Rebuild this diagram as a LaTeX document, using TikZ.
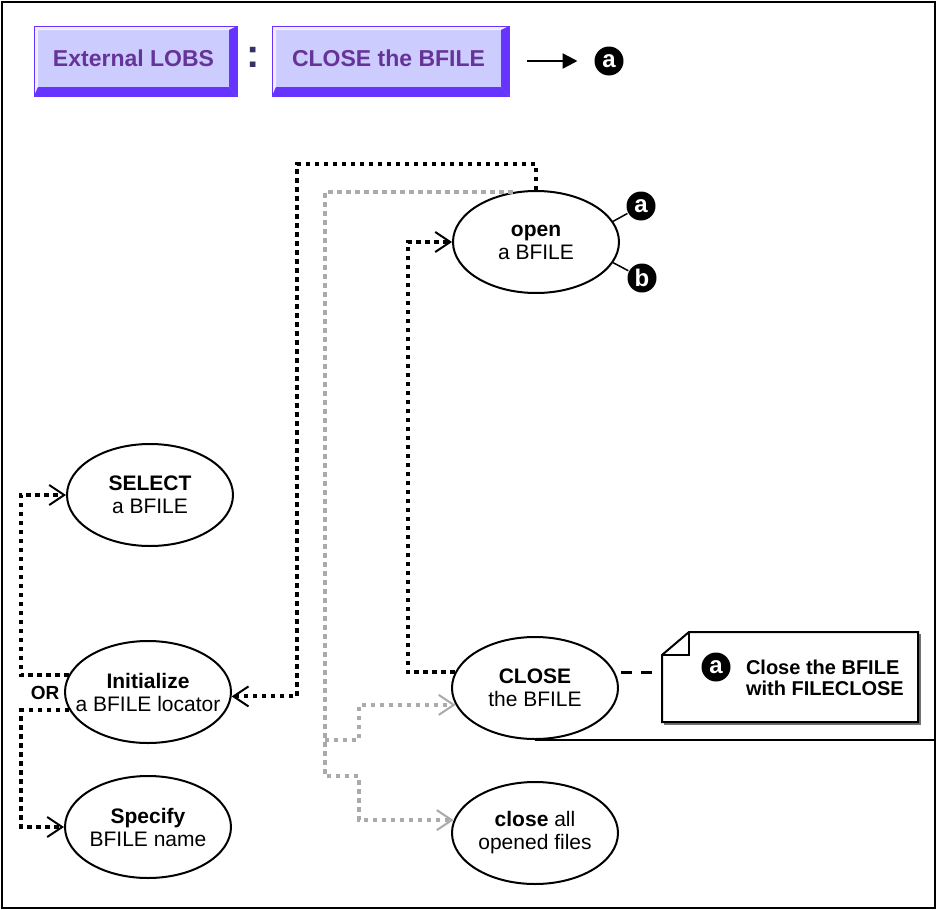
\documentclass[tikz,border=0pt]{standalone}
\usepackage{fontspec}
\setmainfont{Liberation Sans}
\usetikzlibrary{arrows.meta,shapes.geometric}
\definecolor{btnface}{HTML}{CCCCFF}
\definecolor{btnedge}{HTML}{6633FF}
\definecolor{btnlight}{HTML}{EEEEFF}
\definecolor{btntext}{HTML}{663399}
\definecolor{btncolon}{HTML}{333366}
\definecolor{dotgrey}{HTML}{AAAAAA}
\begin{document}
\begin{tikzpicture}[x=1pt,y=-1pt,line width=2pt,
    inner sep=0pt,
    oval/.style={draw,ellipse,minimum width=166pt,minimum height=102pt,
      inner xsep=-14pt,align=center,font=\fontsize{21}{23}\selectfont},
    badge/.style={circle,fill=black,minimum size=29pt,text=white,
      font=\bfseries\fontsize{24}{24}\selectfont},
    hdrtext/.style={text=btntext,font=\bfseries\fontsize{23}{23}\selectfont},
    flowline/.style={line width=4pt,dash pattern=on 4.5pt off 4.5pt,
      -{Straight Barb[length=15pt,width=20pt,line width=2pt]}},
    greyline/.style={flowline,draw=dotgrey}]
    \path[use as bounding box] (0,0) rectangle (937,910);
    \node[draw,minimum width=933pt,minimum height=906pt] (frame) at (468.5,455) {};
    \foreach \xa/\xb/\lbl/\nm in {34/237/External LOBS/hdrlobs,272/509/CLOSE the BFILE/hdrclose} {
      \fill[btnface] (\xa,26) rectangle (\xb,96);
      \fill[btnlight] (\xa,26) -- (\xb,26) -- (\xb-8,30) -- (\xa+4,30) -- cycle;
      \fill[btnlight] (\xa,26) -- (\xa+4,30) -- (\xa+4,87) -- (\xa,96) -- cycle;
      \fill[btnedge] (\xb,26) -- (\xb,96) -- (\xb-8,87) -- (\xb-8,30) -- cycle;
      \fill[btnedge] (\xa,96) -- (\xb,96) -- (\xb-8,87) -- (\xa+4,87) -- cycle;
      \draw[btnedge,line width=1pt] (\xa,26) rectangle (\xb,96);
      \node[hdrtext] (\nm) at ({(\xa+\xb)/2-2},58) {\lbl};
    }
    \node[text=btncolon,font=\bfseries\fontsize{40}{40}\selectfont] (colon) at (253,57) {:};
    \coordinate (keystart) at (527,61);
    \node[badge] (keyhdr) at (609,61) {a};
    \draw[line width=2.5pt,-{Triangle[length=15pt,width=15pt]},shorten >=16pt] (keystart) -- (keyhdr);
    \node[oval] (openbf) at (536,242) {\textbf{open}\\a BFILE};
    \node[oval] (selectbf) at (150,495) {\textbf{SELECT}\\a BFILE};
    \node[oval] (initbf) at (148,692) {\textbf{Initialize}\\a BFILE locator};
    \node[oval] (specbf) at (148,827) {\textbf{Specify}\\BFILE name};
    \node[oval] (closebf) at (535,688) {\textbf{CLOSE}\\the BFILE};
    \node[oval] (closeall) at (535,833) {\textbf{close} all\\opened files};
    \node[badge] (keyopa) at (641,206) {a};
    \node[badge] (keyopb) at (642,278) {b};
    \draw[line width=1.5pt] (openbf.15) -- (keyopa);
    \draw[line width=1.5pt] (openbf.-15) -- (keyopb);
    \node[font=\bfseries\fontsize{19}{19}\selectfont] (orlbl) at (45,693) {OR};
    \draw[flowline] (initbf.168) -- ++(-48,0) |- (selectbf.west);
    \draw[flowline] (initbf.193) -- ++(-48,0) |- (specbf.west);
    \draw[flowline] (openbf.north) -- ++(0,-26) -- ++(-239,0) |- (initbf.357);
    \draw[flowline] (closebf.169) -- ++(-47,0) |- (openbf.west);
    \draw[greyline] (openbf.115) -- ++(-188,0) -- ++(0,548) coordinate (fork)
      -- ++(0,36) -- ++(34,0) |- (closeall.171);
    \draw[greyline] (fork) -- ++(34,0) |- (closebf.192);
    \draw[line width=1.5pt] (closebf.south) -- (closebf.south -| frame.east);
    \draw[line width=2pt,black!55] (920,634) -- (920,724) -- (664,724);
    \filldraw[fill=white] (662,655) -- (689,632) -- (918,632) -- (918,722) -- (662,722) -- cycle;
    \draw[line width=1.5pt] (689,632) -- (689,655) -- (662,655);
    \coordinate (noteleft) at (662,673);
    \draw[line width=2.5pt,dash pattern=on 11pt off 9pt,shorten <=6pt,shorten >=9pt]
      (closebf.11) -- (closebf.11 -| noteleft);
    \node[badge] (keynote) at (716,667) {a};
    \node[anchor=west,align=left,font=\bfseries\fontsize{20}{21}\selectfont] (notetxt)
      at (745,678) {Close the BFILE\\with FILECLOSE};
  \end{tikzpicture}
\end{document}
